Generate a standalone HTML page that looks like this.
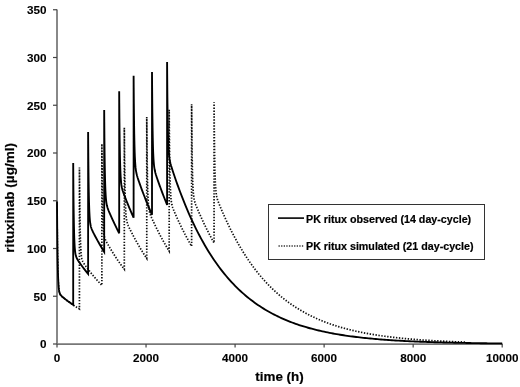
<!DOCTYPE html>
<html><head><meta charset="utf-8"><style>
html,body{margin:0;padding:0;background:#fff;}
svg{display:block;filter:grayscale(100%);}
text{font-family:"Liberation Sans", sans-serif;font-weight:bold;fill:#000;stroke:#000;stroke-width:0.2px;}
.lb{font-size:11.7px;stroke-width:0.12px;}
.tk{stroke:#444;stroke-width:1.2;}
.ax{stroke:#888;stroke-width:2;fill:none;}
</style></head><body>
<svg width="520" height="387" viewBox="0 0 520 387">
<rect width="520" height="387" fill="#fff"/>
<path d="M57.00 202.56 L57.09 214.35 L57.22 229.22 L57.36 241.30 L57.49 251.11 L57.62 259.09 L57.76 265.57 L57.89 270.85 L58.07 276.41 L58.25 280.64 L58.47 284.57 L58.69 287.39 L58.78 288.29 L58.96 289.77 L59.23 291.42 L59.67 293.17 L60.34 294.61 L60.56 294.94 L61.01 295.49 L61.90 296.36 L62.34 296.75 L63.23 297.49 L64.12 298.21 L65.01 298.92 L65.90 299.62 L67.24 300.64 L67.68 300.98 L69.47 302.29 L71.25 303.57 L73.03 304.81 L74.81 306.01 L76.59 307.18 L78.37 308.30 L79.44 308.96 L79.44 167.53 L79.53 179.37 L79.66 194.32 L79.79 206.48 L79.93 216.37 L80.06 224.43 L80.15 228.95 L80.19 231.00 L80.33 236.36 L80.51 242.02 L80.68 246.36 L80.91 250.42 L81.13 253.37 L81.40 255.91 L81.66 257.72 L81.93 259.03 L82.11 259.73 L82.78 261.56 L83.44 262.82 L83.71 263.25 L84.34 264.19 L85.49 265.83 L85.67 266.07 L87.27 268.23 L87.45 268.46 L89.05 270.55 L89.68 271.34 L90.84 272.80 L92.62 274.98 L94.40 277.10 L96.18 279.15 L97.96 281.13 L99.74 283.06 L101.52 284.93 L101.88 285.29 L101.88 143.86 L101.97 155.73 L102.10 170.74 L102.23 182.95 L102.37 192.90 L102.50 201.01 L102.63 207.64 L102.77 213.05 L102.94 218.79 L103.12 223.20 L103.30 226.62 L103.35 227.35 L103.57 230.39 L103.84 233.04 L104.10 234.95 L104.55 237.14 L105.08 238.88 L105.22 239.23 L105.88 240.75 L106.77 242.46 L106.86 242.63 L108.11 244.84 L108.64 245.77 L109.89 247.88 L110.42 248.78 L112.12 251.55 L112.20 251.70 L113.99 254.52 L115.77 257.27 L117.55 259.92 L119.33 262.50 L121.11 265.00 L122.89 267.42 L124.31 269.30 L124.31 127.86 L124.40 139.76 L124.54 154.81 L124.67 167.06 L124.80 177.05 L124.94 185.19 L125.07 191.85 L125.20 197.31 L125.38 203.09 L125.56 207.55 L125.78 211.76 L126.01 214.86 L126.27 217.59 L126.45 218.97 L126.54 219.57 L126.99 221.87 L127.65 224.15 L128.23 225.63 L128.32 225.84 L129.21 227.78 L130.01 229.43 L130.55 230.50 L131.79 232.95 L132.33 233.98 L133.57 236.35 L134.55 238.18 L135.36 239.65 L137.14 242.85 L138.92 245.95 L140.70 248.95 L142.48 251.86 L144.26 254.69 L146.04 257.42 L146.75 258.49 L146.75 117.06 L146.84 128.98 L146.97 144.05 L147.11 156.32 L147.24 166.33 L147.38 174.51 L147.51 181.19 L147.64 186.67 L147.82 192.48 L148.00 196.98 L148.22 201.23 L148.44 204.37 L148.71 207.14 L148.98 209.17 L149.42 211.56 L149.60 212.30 L150.09 213.95 L150.76 215.76 L151.38 217.25 L151.65 217.86 L152.99 220.81 L153.16 221.19 L154.77 224.59 L154.94 224.96 L156.72 228.61 L156.99 229.14 L158.51 232.14 L160.29 235.57 L162.07 238.89 L163.85 242.11 L165.63 245.23 L167.41 248.26 L169.19 251.19 L169.19 109.76 L169.28 121.69 L169.41 136.77 L169.55 149.07 L169.68 159.09 L169.81 167.29 L169.95 173.99 L170.08 179.48 L170.26 185.32 L170.44 189.84 L170.66 194.11 L170.88 197.29 L170.97 198.32 L171.15 200.09 L171.42 202.15 L171.86 204.59 L172.53 207.07 L172.75 207.74 L173.20 208.96 L174.09 211.16 L174.53 212.21 L175.42 214.26 L176.31 216.27 L177.20 218.24 L178.09 220.18 L179.43 223.04 L179.88 223.98 L181.66 227.66 L183.44 231.22 L185.22 234.68 L187.00 238.03 L188.78 241.27 L190.56 244.42 L191.63 246.26 L191.63 104.25 L191.72 116.26 L191.85 131.46 L191.98 143.84 L192.12 153.94 L192.25 162.19 L192.34 166.84 L192.39 168.95 L192.52 174.48 L192.70 180.37 L192.88 184.93 L193.10 189.25 L193.32 192.46 L193.59 195.30 L193.85 197.39 L194.12 198.99 L194.30 199.88 L194.97 202.41 L195.64 204.36 L195.90 205.06 L196.53 206.63 L197.68 209.42 L197.86 209.84 L199.46 213.55 L199.64 213.95 L201.24 217.55 L201.87 218.92 L203.03 221.42 L204.81 225.18 L206.59 228.82 L208.37 232.35 L210.15 235.77 L211.93 239.08 L213.71 242.30 L214.07 242.93 L214.07 102.35 L214.16 114.18 L214.29 129.15 L214.42 141.34 L214.56 151.30 L214.69 159.43 L214.82 166.09 L214.96 171.56 L215.14 177.37 L215.31 181.87 L215.49 185.39 L215.54 186.14 L215.76 189.32 L216.03 192.14 L216.29 194.23 L216.74 196.72 L217.27 198.83 L217.41 199.28 L218.07 201.25 L218.96 203.58 L219.05 203.80 L220.30 206.85 L220.83 208.13 L222.08 211.06 L222.61 212.29 L224.31 216.13 L224.40 216.33 L226.18 220.24 L227.96 224.03 L229.74 227.71 L231.52 231.27 L233.30 234.73 L235.08 238.07 L236.86 241.32 L238.64 244.47 L240.42 247.52 L242.20 250.47 L243.98 253.34 L245.76 256.12 L247.55 258.81 L249.33 261.42 L251.11 263.95 L252.89 266.40 L254.67 268.78 L256.45 271.08 L258.23 273.32 L260.01 275.48 L261.79 277.58 L263.57 279.62 L265.35 281.59 L267.13 283.50 L268.92 285.36 L270.70 287.15 L272.48 288.90 L274.26 290.58 L276.04 292.22 L277.82 293.81 L279.60 295.35 L281.38 296.84 L283.16 298.28 L284.94 299.68 L286.72 301.04 L288.50 302.36 L290.28 303.63 L292.07 304.87 L293.85 306.07 L295.63 307.23 L297.41 308.36 L299.19 309.45 L300.97 310.51 L302.75 311.53 L304.53 312.53 L306.31 313.49 L308.09 314.43 L309.87 315.33 L311.65 316.21 L313.44 317.06 L315.22 317.89 L317.00 318.69 L318.78 319.46 L320.56 320.22 L322.34 320.95 L324.12 321.65 L325.90 322.34 L327.68 323.00 L329.46 323.64 L331.24 324.27 L333.02 324.87 L334.80 325.46 L336.59 326.03 L338.37 326.58 L340.15 327.11 L341.93 327.63 L343.71 328.13 L345.49 328.62 L347.27 329.09 L349.05 329.54 L350.83 329.99 L352.61 330.42 L354.39 330.83 L356.17 331.24 L357.96 331.63 L359.74 332.01 L361.52 332.37 L363.30 332.73 L365.08 333.08 L366.86 333.41 L368.64 333.73 L370.42 334.05 L372.20 334.35 L373.98 334.65 L375.76 334.94 L377.54 335.21 L379.32 335.48 L381.11 335.74 L382.89 336.00 L384.67 336.24 L386.45 336.48 L388.23 336.71 L390.01 336.93 L391.79 337.15 L393.57 337.36 L395.35 337.56 L397.13 337.76 L398.91 337.95 L400.69 338.14 L402.48 338.32 L404.26 338.49 L406.04 338.66 L407.82 338.82 L409.60 338.98 L411.38 339.14 L413.16 339.29 L414.94 339.43 L416.72 339.57 L418.50 339.71 L420.28 339.84 L422.06 339.96 L423.84 340.09 L425.63 340.21 L427.41 340.32 L429.19 340.44 L430.97 340.55 L432.75 340.65 L434.53 340.75 L436.31 340.85 L438.09 340.95 L439.87 341.04 L441.65 341.13 L443.43 341.22 L445.21 341.31 L447.00 341.39 L448.78 341.47 L450.56 341.55 L452.34 341.62 L454.12 341.70 L455.90 341.77 L457.68 341.83 L459.46 341.90 L461.24 341.96 L463.02 342.03 L464.80 342.09 L466.58 342.15" fill="none" stroke="#111" stroke-width="1.7" stroke-dasharray="1.4 1.55"/>
<line x1="57" y1="9.5" x2="57" y2="344" class="ax"/>
<line x1="57" y1="344.2" x2="502.5" y2="344.2" class="ax" style="stroke:#777;stroke-width:1.8"/>
<line x1="53" y1="344.00" x2="57" y2="344.00" class="tk"/><text x="46.5" y="348.40" text-anchor="end" class="lb">0</text><line x1="53" y1="296.25" x2="57" y2="296.25" class="tk"/><text x="46.5" y="300.65" text-anchor="end" class="lb">50</text><line x1="53" y1="248.50" x2="57" y2="248.50" class="tk"/><text x="46.5" y="252.90" text-anchor="end" class="lb">100</text><line x1="53" y1="200.75" x2="57" y2="200.75" class="tk"/><text x="46.5" y="205.15" text-anchor="end" class="lb">150</text><line x1="53" y1="153.00" x2="57" y2="153.00" class="tk"/><text x="46.5" y="157.40" text-anchor="end" class="lb">200</text><line x1="53" y1="105.25" x2="57" y2="105.25" class="tk"/><text x="46.5" y="109.65" text-anchor="end" class="lb">250</text><line x1="53" y1="57.50" x2="57" y2="57.50" class="tk"/><text x="46.5" y="61.90" text-anchor="end" class="lb">300</text><line x1="53" y1="9.75" x2="57" y2="9.75" class="tk"/><text x="46.5" y="14.15" text-anchor="end" class="lb">350</text>
<line x1="57.00" y1="344" x2="57.00" y2="347.5" class="tk"/><text x="57.00" y="362.4" text-anchor="middle" class="lb">0</text><line x1="146.04" y1="344" x2="146.04" y2="347.5" class="tk"/><text x="146.04" y="362.4" text-anchor="middle" class="lb">2000</text><line x1="235.08" y1="344" x2="235.08" y2="347.5" class="tk"/><text x="235.08" y="362.4" text-anchor="middle" class="lb">4000</text><line x1="324.12" y1="344" x2="324.12" y2="347.5" class="tk"/><text x="324.12" y="362.4" text-anchor="middle" class="lb">6000</text><line x1="413.16" y1="344" x2="413.16" y2="347.5" class="tk"/><text x="413.16" y="362.4" text-anchor="middle" class="lb">8000</text><line x1="502.20" y1="344" x2="502.20" y2="347.5" class="tk"/><text x="502.20" y="362.4" text-anchor="middle" class="lb">10000</text>
<path d="M57.00 201.61 L57.09 213.52 L57.22 228.55 L57.36 240.75 L57.49 250.67 L57.62 258.73 L57.76 265.28 L57.89 270.62 L58.07 276.23 L58.25 280.51 L58.47 284.47 L58.69 287.32 L58.78 288.23 L58.96 289.73 L59.23 291.39 L59.67 293.15 L60.34 294.61 L60.56 294.94 L61.01 295.48 L61.90 296.36 L62.34 296.75 L63.23 297.49 L64.12 298.21 L65.01 298.92 L65.90 299.62 L67.24 300.64 L67.68 300.98 L69.47 302.29 L71.25 303.57 L73.03 304.81 L73.20 304.93 L73.21 163.02 L73.29 174.93 L73.43 189.97 L73.56 202.20 L73.69 212.15 L73.83 220.26 L73.96 226.87 L74.10 232.27 L74.27 237.97 L74.45 242.35 L74.67 246.44 L74.81 248.34 L74.90 249.43 L75.16 252.00 L75.43 253.83 L75.88 255.87 L76.54 257.76 L76.59 257.86 L77.21 259.06 L78.10 260.49 L78.37 260.90 L79.44 262.45 L80.15 263.47 L81.22 264.96 L81.93 265.94 L83.44 267.97 L83.71 268.33 L85.49 270.65 L87.27 272.89 L88.12 273.94 L88.12 132.02 L88.21 143.98 L88.34 159.09 L88.48 171.40 L88.61 181.42 L88.74 189.60 L88.88 196.29 L89.01 201.76 L89.05 203.35 L89.19 207.55 L89.37 212.02 L89.59 216.23 L89.81 219.33 L90.08 222.04 L90.35 224.01 L90.79 226.29 L90.84 226.47 L91.46 228.52 L92.13 230.16 L92.62 231.22 L93.02 232.04 L94.35 234.66 L94.40 234.74 L96.13 238.01 L96.18 238.09 L97.96 241.34 L98.36 242.06 L99.74 244.49 L101.52 247.53 L103.30 250.49 L104.19 251.93 L104.19 110.02 L104.28 122.01 L104.41 137.17 L104.55 149.53 L104.68 159.61 L104.81 167.84 L104.95 174.57 L105.08 180.09 L105.26 185.96 L105.44 190.49 L105.66 194.79 L105.88 197.97 L106.15 200.78 L106.42 202.85 L106.86 205.29 L107.53 207.76 L108.20 209.65 L108.64 210.77 L109.09 211.84 L110.42 214.93 L112.20 218.88 L113.99 222.72 L114.43 223.66 L115.77 226.43 L117.55 230.04 L119.19 233.27 L119.19 91.36 L119.28 103.38 L119.33 108.80 L119.42 118.58 L119.55 130.98 L119.68 141.10 L119.82 149.38 L119.95 156.15 L120.08 161.72 L120.26 167.64 L120.44 172.23 L120.66 176.60 L120.89 179.85 L121.11 182.32 L121.15 182.75 L121.42 184.90 L121.87 187.48 L122.53 190.16 L122.89 191.31 L123.20 192.24 L124.09 194.71 L124.67 196.24 L125.43 198.19 L126.45 200.78 L127.21 202.66 L128.23 205.17 L129.43 208.05 L130.01 209.42 L131.79 213.54 L133.57 217.54 L133.62 217.64 L133.62 75.73 L133.71 87.77 L133.84 103.01 L133.98 115.45 L134.11 125.61 L134.24 133.92 L134.38 140.73 L134.51 146.33 L134.69 152.30 L134.87 156.94 L135.09 161.36 L135.31 164.68 L135.36 165.24 L135.58 167.64 L135.84 169.86 L136.29 172.56 L136.96 175.41 L137.14 176.05 L137.63 177.67 L138.52 180.36 L138.92 181.52 L139.85 184.17 L140.70 186.52 L141.63 189.07 L142.48 191.35 L143.86 194.98 L144.26 196.02 L146.04 200.56 L147.82 204.95 L149.60 209.21 L151.38 213.34 L152.01 214.76 L152.01 71.99 L152.09 84.14 L152.23 99.54 L152.36 112.09 L152.50 122.35 L152.63 130.74 L152.76 137.62 L152.90 143.28 L153.07 149.31 L153.16 151.80 L153.25 154.00 L153.47 158.47 L153.70 161.82 L153.96 164.82 L154.23 167.07 L154.68 169.80 L154.94 171.07 L155.34 172.69 L156.01 174.98 L156.72 177.18 L156.90 177.71 L158.24 181.59 L158.51 182.34 L160.02 186.57 L160.29 187.30 L162.07 192.10 L162.25 192.57 L163.85 196.76 L165.63 201.27 L167.10 204.88 L167.10 62.02 L167.19 74.20 L167.32 89.64 L167.41 98.31 L167.45 102.23 L167.59 112.52 L167.72 120.94 L167.85 127.85 L167.99 133.53 L168.17 139.60 L168.34 144.32 L168.57 148.84 L168.79 152.23 L169.06 155.27 L169.19 156.50 L169.32 157.57 L169.77 160.37 L170.44 163.38 L170.97 165.32 L171.10 165.78 L172.00 168.65 L172.75 170.98 L173.33 172.73 L174.53 176.30 L175.11 177.98 L176.31 181.44 L177.34 184.32 L178.09 186.42 L179.88 191.25 L181.66 195.93 L183.44 200.46 L185.22 204.86 L187.00 209.12 L188.78 213.26 L190.56 217.26 L192.34 221.15 L194.12 224.91 L195.90 228.56 L197.68 232.10 L199.46 235.53 L201.24 238.85 L203.03 242.07 L204.81 245.19 L206.59 248.22 L208.37 251.16 L210.15 254.00 L211.93 256.76 L213.71 259.43 L215.49 262.02 L217.27 264.54 L219.05 266.97 L220.83 269.33 L222.61 271.62 L224.40 273.84 L226.18 275.99 L227.96 278.07 L229.74 280.09 L231.52 282.05 L233.30 283.95 L235.08 285.79 L236.86 287.57 L238.64 289.30 L240.42 290.98 L242.20 292.60 L243.98 294.18 L245.76 295.70 L247.55 297.18 L249.33 298.62 L251.11 300.01 L252.89 301.35 L254.67 302.66 L256.45 303.93 L258.23 305.16 L260.01 306.35 L261.79 307.50 L263.57 308.62 L265.35 309.70 L267.13 310.75 L268.92 311.77 L270.70 312.76 L272.48 313.72 L274.26 314.64 L276.04 315.54 L277.82 316.42 L279.60 317.26 L281.38 318.08 L283.16 318.87 L284.94 319.64 L286.72 320.39 L288.50 321.11 L290.28 321.82 L292.07 322.50 L293.85 323.15 L295.63 323.79 L297.41 324.41 L299.19 325.01 L300.97 325.59 L302.75 326.16 L304.53 326.70 L306.31 327.23 L308.09 327.75 L309.87 328.25 L311.65 328.73 L313.44 329.20 L315.22 329.65 L317.00 330.09 L318.78 330.52 L320.56 330.93 L322.34 331.33 L324.12 331.72 L325.90 332.09 L327.68 332.46 L329.46 332.81 L331.24 333.16 L333.02 333.49 L334.80 333.81 L336.59 334.12 L338.37 334.43 L340.15 334.72 L341.93 335.00 L343.71 335.28 L345.49 335.55 L347.27 335.80 L349.05 336.06 L350.83 336.30 L352.61 336.54 L354.39 336.76 L356.17 336.99 L357.96 337.20 L359.74 337.41 L361.52 337.61 L363.30 337.81 L365.08 338.00 L366.86 338.18 L368.64 338.36 L370.42 338.53 L372.20 338.70 L373.98 338.86 L375.76 339.02 L377.54 339.17 L379.32 339.32 L381.11 339.46 L382.89 339.60 L384.67 339.74 L386.45 339.87 L388.23 339.99 L390.01 340.12 L391.79 340.24 L393.57 340.35 L395.35 340.46 L397.13 340.57 L398.91 340.68 L400.69 340.78 L402.48 340.88 L404.26 340.97 L406.04 341.07 L407.82 341.16 L409.60 341.24 L411.38 341.33 L413.16 341.41 L414.94 341.49 L416.72 341.57 L418.50 341.64 L420.28 341.71 L422.06 341.78 L423.84 341.85 L425.63 341.92 L427.41 341.98 L429.19 342.04 L430.97 342.10 L432.75 342.16 L434.53 342.22 L436.31 342.27 L438.09 342.32 L439.87 342.38 L441.65 342.43 L443.43 342.47 L445.21 342.52 L447.00 342.57 L448.78 342.61 L450.56 342.65 L452.34 342.69 L454.12 342.73 L455.90 342.77 L457.68 342.81 L459.46 342.85 L461.24 342.88 L463.02 342.92 L464.80 342.95 L466.58 342.98 L468.36 343.01 L470.15 343.04 L471.93 343.07 L473.71 343.10 L475.49 343.13 L477.27 343.15 L479.05 343.18 L480.83 343.21 L482.61 343.23 L484.39 343.25 L486.17 343.28 L487.95 343.30 L489.73 343.32 L491.52 343.34 L493.30 343.36 L495.08 343.38 L496.86 343.40 L498.64 343.42 L500.42 343.44 L502.20 343.45" fill="none" stroke="#000" stroke-width="1.85"/>
<rect x="268.5" y="204.5" width="216" height="55" fill="#fff" stroke="#333" stroke-width="1"/>
<line x1="278" y1="218.1" x2="304" y2="218.1" stroke="#000" stroke-width="1.6"/>
<line x1="278.5" y1="246" x2="303.5" y2="246" stroke="#333" stroke-width="1.3" stroke-dasharray="1.3 1.3"/>
<text x="306" y="222.5" style="font-size:10.7px">PK ritux observed (14 day-cycle)</text>
<text x="306" y="250" style="font-size:10.7px">PK ritux simulated (21 day-cycle)</text>
<text x="279.5" y="380.8" text-anchor="middle" style="font-size:13.4px">time (h)</text>
<text transform="translate(14.1 197.8) rotate(-90)" text-anchor="middle" style="font-size:13.6px">rituximab (µg/ml)</text>
</svg>
</body></html>
